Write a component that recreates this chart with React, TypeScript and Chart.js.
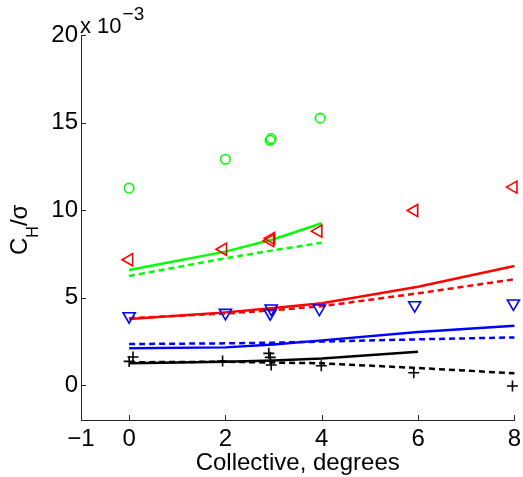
import React, { useEffect, useRef } from 'react';
import { Chart, registerables } from 'chart.js';

Chart.register(...registerables);

// Axis ticks
const X_TICKS = [-1, 0, 2, 4, 6, 8];
const Y_TICKS = [0, 5, 10, 15, 20];

// Measured markers (values in units of 1e-3)
const circleX = [0, 2, 2.93, 2.95, 3.97];
const circleY = [11.25, 12.9, 13.98, 14.08, 15.25];

const leftTriX = [0, 1.95, 2.93, 2.95, 3.93, 5.92, 7.98];
const leftTriY = [7.16, 7.76, 8.25, 8.38, 8.79, 9.97, 11.31];

const downTriX = [0, 2, 2.93, 2.95, 3.95, 5.93, 7.98];
const downTriY = [3.93, 4.12, 4.1, 4.37, 4.37, 4.56, 4.66];

const plusX = [0, 0.08, 1.94, 2.9, 2.93, 2.95, 3.99, 5.91, 7.96];
const plusY = [1.35, 1.6, 1.37, 1.81, 1.58, 1.14, 1.1, 0.7, -0.06];

// Predicted curves
const greenLineX = [0, 2, 3, 4];
const greenSolidY = [6.57, 7.62, 8.33, 9.24];
const greenDashY = [6.23, 7.24, 7.7, 8.13];

const fullLineX = [0, 2, 3, 4, 6, 8];
const redSolidY = [3.77, 4.15, 4.4, 4.67, 5.62, 6.8];
const redDashY = [3.82, 4.08, 4.28, 4.5, 5.24, 6.04];
const blueSolidY = [2.1, 2.15, 2.32, 2.55, 3.03, 3.39];
const blueDashY = [2.34, 2.38, 2.42, 2.48, 2.61, 2.72];
const blackDashY = [1.3, 1.33, 1.28, 1.24, 0.97, 0.67];

const blackSolidX = [0, 2, 3, 4, 6];
const blackSolidY = [1.24, 1.33, 1.4, 1.52, 1.9];

const FONT = '"Liberation Sans", Arial, Helvetica, sans-serif';
const GREEN = '#00ff00';
const RED = '#ff0000';
const BLUE = '#0000ff';
const BLACK = '#000000';

function pts(xs: number[], ys: number[]) {
  return xs.map((x, i) => ({ x, y: ys[i] }));
}

function lineDs(xs: number[], ys: number[], color: string, dashed: boolean) {
  return {
    data: pts(xs, ys),
    showLine: true,
    borderColor: color,
    backgroundColor: color,
    borderWidth: 2.5,
    borderDash: dashed ? [6, 4] : [],
    pointRadius: 0,
    pointHoverRadius: 0,
    tension: 0,
    clip: false as any,
  };
}

function markerDs(xs: number[], ys: number[], color: string, style: string, radius: number, rotation = 0) {
  return {
    data: pts(xs, ys),
    showLine: false,
    borderColor: color,
    backgroundColor: 'rgba(0,0,0,0)',
    pointStyle: style,
    pointRadius: radius,
    pointHoverRadius: radius,
    pointBorderWidth: 1.6,
    pointRotation: rotation,
    clip: false as any,
  };
}

const overlay = {
  id: 'overlay',
  afterDraw(chart: any) {
    const { ctx, chartArea, scales } = chart;
    const xs = scales.x;
    const ys = scales.y;
    ctx.save();
    ctx.strokeStyle = '#262626';
    ctx.lineWidth = 1;
    X_TICKS.forEach((v) => {
      const p = Math.round(xs.getPixelForValue(v)) + 0.5;
      ctx.beginPath();
      ctx.moveTo(p, chartArea.bottom);
      ctx.lineTo(p, chartArea.bottom - 5);
      ctx.stroke();
    });
    Y_TICKS.forEach((v) => {
      const p = Math.round(ys.getPixelForValue(v)) + 0.5;
      ctx.beginPath();
      ctx.moveTo(chartArea.left, p);
      ctx.lineTo(chartArea.left + 5, p);
      ctx.stroke();
    });

    ctx.fillStyle = '#000';
    ctx.textBaseline = 'alphabetic';
    ctx.textAlign = 'left';
    ctx.font = `22px ${FONT}`;
    ctx.fillText('x 10', 80, 33);
    const w = ctx.measureText('x 10').width;
    ctx.font = `19px ${FONT}`;
    ctx.fillText('\u22123', 80 + w + 1, 20);

    ctx.font = `24px ${FONT}`;
    ctx.textAlign = 'center';
    ctx.fillText('Collective, degrees', (chartArea.left + chartArea.right) / 2, 470);

    ctx.translate(27, 255);
    ctx.rotate(-Math.PI / 2);
    ctx.textAlign = 'left';
    ctx.font = `24px ${FONT}`;
    ctx.fillText('C', 0, 0);
    let cx = ctx.measureText('C').width;
    ctx.font = `16px ${FONT}`;
    ctx.fillText('H', cx, 11);
    cx += ctx.measureText('H').width;
    ctx.font = `24px ${FONT}`;
    ctx.fillText('/\u03c3', cx, 0);
    ctx.restore();
  },
};

export default function App() {
  const ref = useRef<HTMLCanvasElement | null>(null);

  useEffect(() => {
    if (!ref.current) return;
    const chart = new Chart(ref.current, {
      type: 'scatter',
      data: {
        datasets: [
          markerDs(circleX, circleY, GREEN, 'circle', 4.8),
          markerDs(leftTriX, leftTriY, RED, 'triangle', 7, -90),
          markerDs(downTriX, downTriY, BLUE, 'triangle', 7, 180),
          markerDs(plusX, plusY, BLACK, 'cross', 5.5),
          lineDs(greenLineX, greenSolidY, GREEN, false),
          lineDs(greenLineX, greenDashY, GREEN, true),
          lineDs(fullLineX, redSolidY, RED, false),
          lineDs(fullLineX, redDashY, RED, true),
          lineDs(fullLineX, blueSolidY, BLUE, false),
          lineDs(fullLineX, blueDashY, BLUE, true),
          lineDs(blackSolidX, blackSolidY, BLACK, false),
          lineDs(fullLineX, blackDashY, BLACK, true),
        ] as any,
      },
      options: {
        animation: false,
        responsive: false,
        maintainAspectRatio: false,
        devicePixelRatio: 1,
        layout: { padding: { top: 35, left: 0, right: 6, bottom: 0 } },
        plugins: {
          legend: { display: false },
          tooltip: { enabled: false },
          title: { display: false },
        },
        scales: {
          x: {
            type: 'linear',
            min: -1,
            max: 8,
            afterBuildTicks: (s: any) => {
              s.ticks = X_TICKS.map((v) => ({ value: v }));
            },
            afterFit: (s: any) => {
              s.height = 57;
              s.paddingLeft = 0;
              s.paddingRight = 0;
            },
            grid: { display: false, drawTicks: false, drawOnChartArea: false },
            border: { display: true, color: '#262626', width: 1 },
            ticks: {
              color: '#000',
              padding: 5,
              maxRotation: 0,
              autoSkip: false,
              font: { family: FONT, size: 24 },
              callback: (v: any) => (v < 0 ? '\u2212' + Math.abs(v) : String(v)),
            },
          },
          y: {
            type: 'linear',
            min: -2,
            max: 20,
            afterBuildTicks: (s: any) => {
              s.ticks = Y_TICKS.map((v) => ({ value: v }));
            },
            afterFit: (s: any) => {
              s.width = 81;
              s.paddingTop = 0;
              s.paddingBottom = 0;
            },
            grid: { display: false, drawTicks: false, drawOnChartArea: false },
            border: { display: true, color: '#262626', width: 1 },
            ticks: {
              color: '#000',
              padding: 3,
              autoSkip: false,
              font: { family: FONT, size: 24 },
              callback: (v: any) => String(v),
            },
          },
        },
      } as any,
      plugins: [overlay],
    });
    return () => chart.destroy();
  }, []);

  return (
    <div style={{ position: 'absolute', left: 0, top: 0, width: 523, height: 477, background: '#fff' }}>
      <canvas ref={ref} width={523} height={477} style={{ display: 'block' }} />
    </div>
  );
}
